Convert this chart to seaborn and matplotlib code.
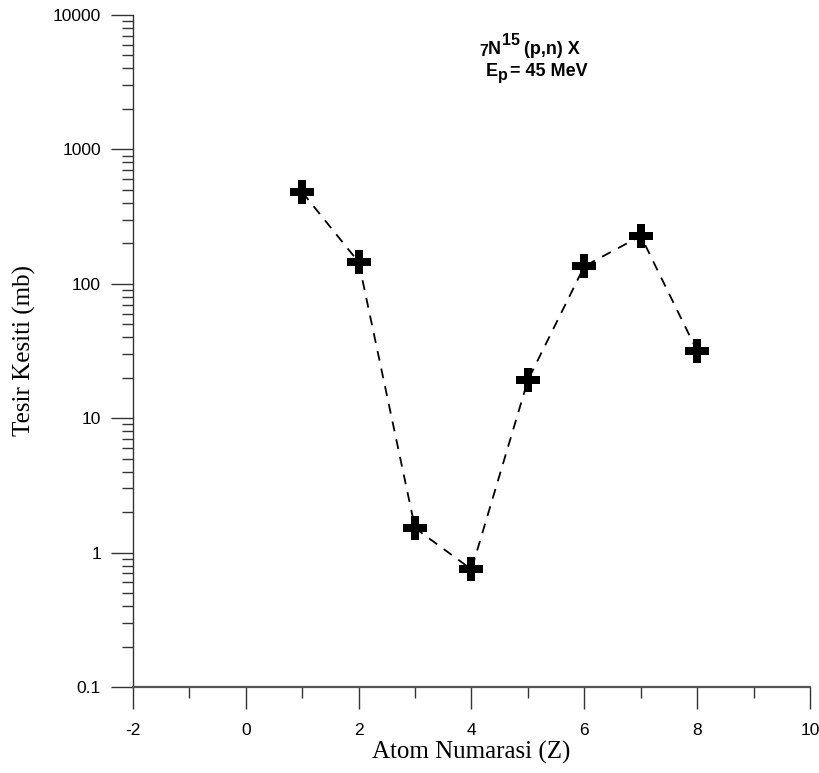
import matplotlib
matplotlib.use('Agg')
import matplotlib.pyplot as plt
import matplotlib.ticker as mticker
import seaborn as sns
import pandas as pd

# Cross-section values
atom_number = [1, 2, 3, 4, 5, 6, 7, 8]
cross_section = [480, 145, 1.52, 0.75, 19.2, 135, 227, 31.6]
y_ticks = [0.1, 1, 10, 100, 1000, 10000]
x_ticks = [-2, 0, 2, 4, 6, 8, 10]

sns.set_style("ticks")
plt.rcParams['font.family'] = ['Liberation Sans', 'DejaVu Sans']
plt.rcParams['axes.unicode_minus'] = False
plt.rcParams['text.color'] = 'black'
plt.rcParams['axes.labelcolor'] = 'black'
plt.rcParams['xtick.color'] = 'black'
plt.rcParams['ytick.color'] = 'black'

df = pd.DataFrame({'Z': atom_number, 'sigma': cross_section})

W, H = 819, 773
fig = plt.figure(figsize=(W / 100, H / 100), dpi=100)
ax = fig.add_axes([133 / W, 86 / H, 677 / W, 672 / H])

sns.lineplot(data=df, x='Z', y='sigma', ax=ax, color='black',
             linestyle='--', linewidth=1.3, marker='P', markersize=17,
             markeredgewidth=0, markerfacecolor='black')
ax.lines[0].set_dashes((5.5, 4.5))

ax.set_yscale('log')
ax.set_ylim(0.1, 10000)
ax.set_xlim(-2, 10)

ax.set_xticks(x_ticks)
ax.xaxis.set_minor_locator(mticker.MultipleLocator(1))
ax.yaxis.set_major_locator(mticker.FixedLocator(y_ticks))
ax.yaxis.set_major_formatter(mticker.FuncFormatter(lambda v, p: f"{v:g}"))
ax.yaxis.set_minor_locator(mticker.LogLocator(base=10, subs=range(2, 10), numticks=20))
ax.yaxis.set_minor_formatter(mticker.NullFormatter())

for side in ['top', 'right']:
    ax.spines[side].set_visible(False)
ax.spines['left'].set_color('#333333')
ax.spines['left'].set_linewidth(1.0)
ax.spines['bottom'].set_color('#555555')
ax.spines['bottom'].set_linewidth(1.6)

ax.tick_params(axis='both', which='major', direction='out', length=16,
               width=1.0, color='#333333', labelsize=12.5, labelcolor='black')
ax.tick_params(axis='both', which='minor', direction='out', length=8,
               width=1.0, color='#333333')
ax.tick_params(axis='y', which='major', pad=7)
ax.tick_params(axis='x', which='major', pad=10)

ax.set_xlabel('Atom Numarasi (Z)', family='Liberation Serif', fontsize=18, labelpad=2)
ax.set_ylabel('Tesir Kesiti (mb)', family='Liberation Serif', fontsize=18, labelpad=12)


# Reaction label, built from pieces so the sub/superscripts keep their size
def put(txt, x, y, size):
    fig.text(x / W, 1 - y / H, txt, ha='left', va='baseline',
             fontsize=size, fontweight='bold', color='black')


put('7', 479, 56, 11.5)
put('N', 488, 54, 13)
put('15', 502, 45, 11.5)
put('(p,n) X', 524, 54, 13)
put('E', 486, 76, 13)
put('p', 498, 80, 11.5)
put('= 45 MeV', 510, 76, 13)

fig.savefig('out.png', dpi=100)
